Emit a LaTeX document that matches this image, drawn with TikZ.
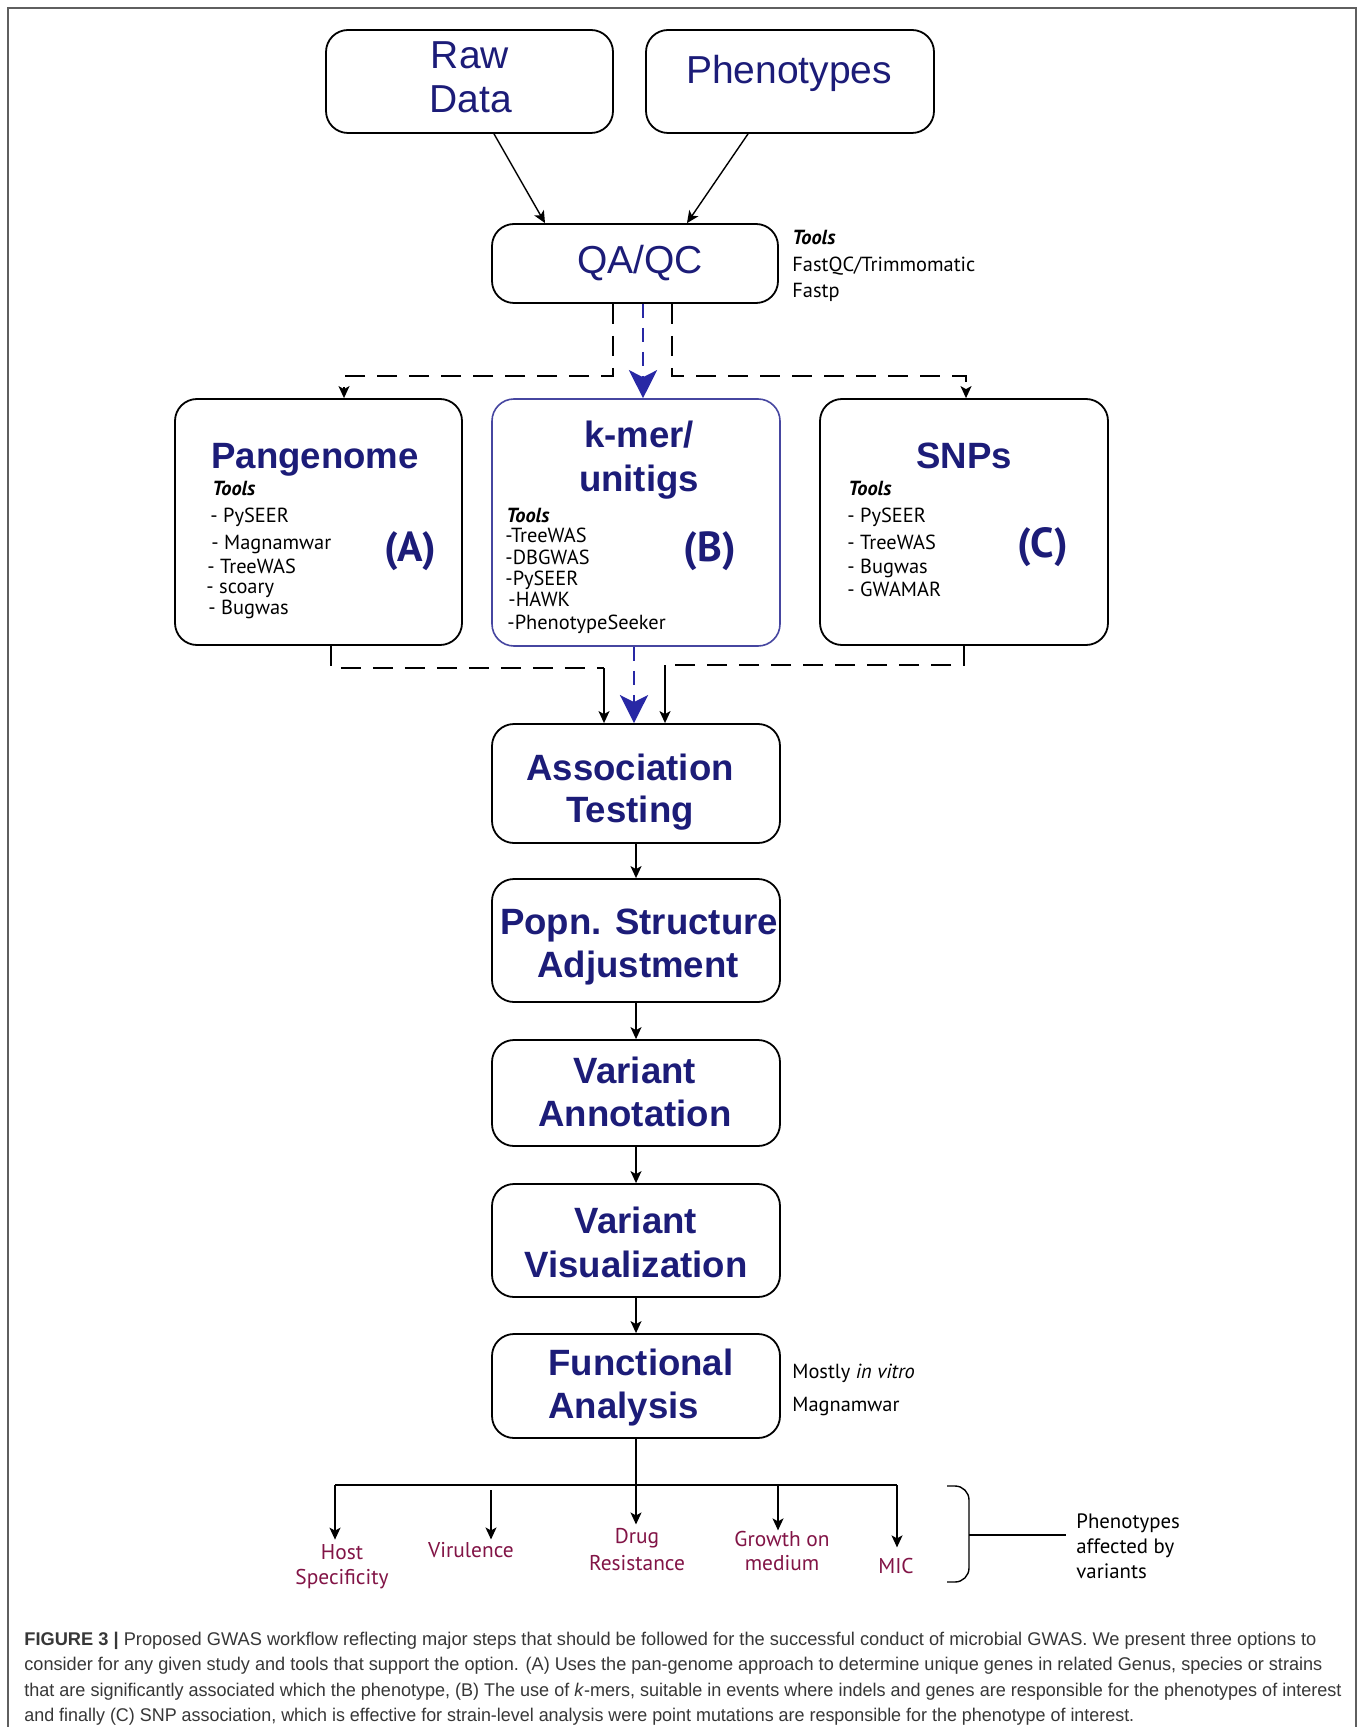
\documentclass[tikz,border=0pt]{standalone}
\usepackage{fontspec}
\usepackage{graphicx}
\setmainfont{Liberation Sans}
\newfontfamily\ptsans{PT Sans}
\usetikzlibrary{arrows.meta}
\definecolor{ttlblue}{RGB}{28,28,120}
\definecolor{lnblue}{RGB}{40,40,165}
\definecolor{kbox}{RGB}{70,70,160}
\definecolor{phenred}{RGB}{130,20,70}
\definecolor{capgray}{RGB}{55,55,55}
\definecolor{framegray}{RGB}{95,95,95}
\begin{document}
\begin{tikzpicture}[x=0.5pt,y=-0.5pt,
  fbox/.style={draw=black, line width=0.9pt, rounded corners=11pt, inner sep=0pt},
  ttltop/.style={font=\fontsize{19.5}{22}\selectfont, text=ttlblue, anchor=base, inner sep=0pt},
  ttl/.style={font=\bfseries\fontsize{18.3}{22}\selectfont, text=ttlblue, anchor=base, inner sep=0pt},
  lbl/.style={font=\ptsans\bfseries\fontsize{21}{24}\selectfont, text=ttlblue, inner sep=0pt},
  tool/.style={font=\ptsans\fontsize{10.2}{12}\selectfont, anchor=base west, inner sep=0pt},
  phen/.style={font=\ptsans\fontsize{10.7}{12}\selectfont, text=phenred, anchor=base, inner sep=0pt},
  captxt/.style={font=\fontsize{9.2}{11}\selectfont, text=capgray, anchor=base west, inner sep=0pt},
  arr/.style={line width=0.7pt, -{Stealth[length=6pt,width=5.5pt,inset=1.5pt]}},
  solidln/.style={line width=0.7pt},
  dsh/.style={line width=0.8pt, dash pattern=on 10pt off 6pt},
  bdsh/.style={draw=lnblue, line width=1.4pt, dash pattern=on 7pt off 5pt,
     -{Stealth[length=14pt,width=14pt,inset=3.5pt]}}
]
\useasboundingbox (0,0) rectangle (1362,1727);
\fill[white] (0,0) rectangle (1362,1727);
\draw[framegray, line width=1.1pt] (8,1727) -- (8,8) -- (1356,8) -- (1356,1727);

% ---------- boxes ----------
\node[fbox, minimum width=143.5pt, minimum height=51.5pt] (raw) at (469.5,81.5) {};
\node[fbox, minimum width=144pt, minimum height=51.5pt] (phen) at (790,81.5) {};
\node[fbox, minimum width=143pt, minimum height=39.5pt] (qa) at (635,263.5) {};
\node[fbox, minimum width=143.5pt, minimum height=123pt] (pan) at (318.5,522) {};
\node[fbox, draw=kbox, line width=0.8pt, minimum width=144pt, minimum height=123.5pt] (kmer) at (636,522.5) {};
\node[fbox, minimum width=144pt, minimum height=123pt] (snp) at (964,522) {};
\node[fbox, minimum width=144pt, minimum height=59.5pt] (assoc) at (636,783.5) {};
\node[fbox, minimum width=144pt, minimum height=61.5pt] (popn) at (636,940.5) {};
\node[fbox, minimum width=144pt, minimum height=53pt] (vann) at (636,1093) {};
\node[fbox, minimum width=144pt, minimum height=56.5pt] (vvis) at (636,1240.5) {};
\node[fbox, minimum width=144pt, minimum height=52pt] (func) at (636,1386) {};

% ---------- titles ----------
\node[ttltop] (rawt1) at (470,69) {Raw};
\node[ttltop] (rawt2) at (471,113) {Data};
\node[ttltop] (phent) at (789,84) {Phenotypes};
\node[ttltop] (qat) at (640,274) {QA/QC};
\node[ttl] (pant) at (315,468) {Pangenome};
\node[ttl] (kmert1) at (639,448) {k-mer/};
\node[ttl] (kmert2) at (639,491) {unitigs};
\node[ttl] (snpt) at (964,468) {SNPs};
\node[ttl] (assoct1) at (630,780) {Association};
\node[ttl] (assoct2) at (630,822) {Testing};
\node[ttl] (popnt1) at (639,934) {Popn. Structure};
\node[ttl] (popnt2) at (638,977) {Adjustment};
\node[ttl] (vannt1) at (635,1083) {Variant};
\node[ttl] (vannt2) at (635,1126) {Annotation};
\node[ttl] (vvist1) at (636,1233) {Variant};
\node[ttl] (vvist2) at (636,1277) {Visualization};
\node[ttl, anchor=base west] (funct1) at (548,1375) {Functional};
\node[ttl, anchor=base west] (funct2) at (548,1418) {Analysis};

\node[lbl] (la) at (410,551) {(A)};
\node[lbl] (lb) at (710,551) {(B)};
\node[lbl] (lc) at (1043,547) {(C)};

% ---------- tool lists ----------
\node[tool] (qatl) at (792,245) {\textbf{\textit{Tools}}};
\node[tool] (qat1) at (792,272) {FastQC/Trimmomatic};
\node[tool] (qat2) at (792,298) {Fastp};

\node[tool] (pantl) at (212,495) {\textbf{\textit{Tools}}};
\foreach \t/\x/\y [count=\i] in {- PySEER/210/522, - Magnamwar/211/549, - TreeWAS/207/573, - scoary/206/593, - Bugwas/208/614}
  \node[tool] (pan\i) at (\x,\y) {\t};

\node[tool] (kmertl) at (506,522) {\textbf{\textit{Tools}}};
\foreach \t/\x/\y [count=\i] in {-TreeWAS/505/542, -DBGWAS/505/564, -PySEER/505/585, -HAWK/508/606, -PhenotypeSeeker/507/629}
  \node[tool] (kmer\i) at (\x,\y) {\t};

\node[tool] (snptl) at (848,495) {\textbf{\textit{Tools}}};
\foreach \t/\x/\y [count=\i] in {- PySEER/847/522, - TreeWAS/847/549, - Bugwas/847/573, - GWAMAR/847/596}
  \node[tool] (snp\i) at (\x,\y) {\t};

\node[tool] (fa1) at (792,1378) {Mostly \textit{in vitro}};
\node[tool] (fa2) at (792,1411) {Magnamwar};

% ---------- phenotype labels ----------
\node[phen] (host1) at (342,1559) {Host};
\node[phen] (host2) at (342,1584) {Specificity};
\node[phen] (vir) at (471,1557) {Virulence};
\node[phen] (drug1) at (637,1543) {Drug};
\node[phen] (drug2) at (637,1570) {Resistance};
\node[phen] (grow1) at (782,1546) {Growth on};
\node[phen] (grow2) at (782,1570) {medium};
\node[phen] (mic) at (896,1573) {MIC};

\node[tool, font=\ptsans\fontsize{10.4}{12}\selectfont] (pav1) at (1076,1528) {Phenotypes};
\node[tool, font=\ptsans\fontsize{10.4}{12}\selectfont] (pav2) at (1076,1553) {affected by};
\node[tool, font=\ptsans\fontsize{10.4}{12}\selectfont] (pav3) at (1076,1578) {variants};

% ---------- connectors ----------
\draw[arr] ([xshift=12.25pt]raw.south) -- ([xshift=-45pt]qa.north);
\draw[arr] ([xshift=-21pt]phen.south) -- ([xshift=26pt]qa.north);

\draw[dsh, arr] ([xshift=-11pt]qa.south) -- ++(0,72) -| ([xshift=12.75pt]pan.north);
\draw[bdsh] ([xshift=4pt]qa.south) -- ([xshift=4pt]qa.south |- kmer.north);
\draw[dsh, arr] ([xshift=18.5pt]qa.south) -- ++(0,72) -| ([xshift=1pt]snp.north);

\coordinate (cl) at (604,668);
\coordinate (cr) at (665,665);
\draw[dsh] ([xshift=6.25pt]pan.south) |- (cl);
\draw[arr] (cl) -- (cl |- assoc.north);
\draw[dsh] (snp.south) |- (cr);
\draw[arr] (cr) -- (cr |- assoc.north);
\draw[bdsh] ([xshift=-1pt]kmer.south) -- ([xshift=-1pt]kmer.south |- assoc.north);

\draw[arr] (assoc.south) -- (popn.north);
\draw[arr] (popn.south) -- (vann.north);
\draw[arr] (vann.south) -- (vvis.north);
\draw[arr] (vvis.south) -- (func.north);

\coordinate (hl) at (335,1485);
\coordinate (hr) at (897,1485);
\coordinate (vb) at (491,1490);
\coordinate (gb) at (778,1485);
\draw[arr, shorten >=1.5pt] (func.south) -- (func.south |- drug1.north);
\draw[solidln] (hl) -- (hr);
\draw[arr, shorten >=2pt] (hl) -- (hl |- host1.north);
\draw[arr, shorten >=1pt] (vb) -- (vb |- vir.north);
\draw[arr] (gb) -- (gb |- grow1.north);
\draw[arr, shorten >=5pt] (hr) -- (hr |- mic.north);

\coordinate (bt) at (947,1486);
\coordinate (bb) at (947,1582);
\coordinate (bm) at (969,1535);
\coordinate (be) at (1066,1535);
\draw[solidln, rounded corners=7pt] (bt) -- (969,1486) -- (969,1582) -- (bb);
\draw[solidln] (bm) -- (be);

% ---------- caption ----------
\node[captxt] (cap1) at (24,1645) {\resizebox{646pt}{\height}{\textbf{FIGURE 3 |} Proposed GWAS workflow reflecting major steps that should be followed for the successful conduct of microbial GWAS. We present three options to}};
\node[captxt] (cap2) at (24,1670.5) {\resizebox{649pt}{\height}{consider for any given study and tools that support the option. (A) Uses the pan-genome approach to determine unique genes in related Genus, species or strains}};
\node[captxt] (cap3) at (24,1696) {\resizebox{658.5pt}{\height}{that are significantly associated which the phenotype, (B) The use of \textit{k}-mers, suitable in events where indels and genes are responsible for the phenotypes of interest}};
\node[captxt] (cap4) at (24,1721.5) {\resizebox{555pt}{\height}{and finally (C) SNP association, which is effective for strain-level analysis were point mutations are responsible for the phenotype of interest.}};
\end{tikzpicture}
\end{document}
